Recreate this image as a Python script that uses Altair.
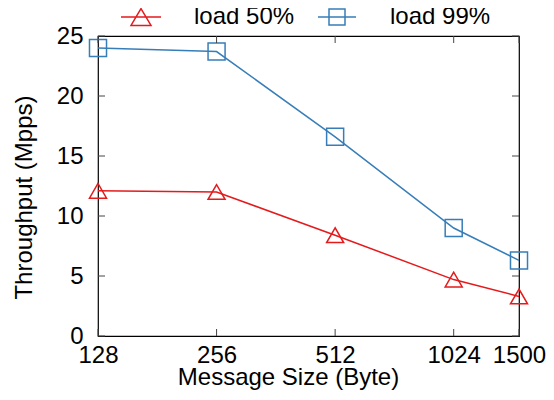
import altair as alt
import pandas as pd

sizes = [128, 256, 512, 1024, 1500]
load50 = [12.1, 12.0, 8.4, 4.7, 3.3]
load99 = [24.0, 23.7, 16.6, 9.0, 6.3]
series = ["load 50%", "load 99%"]
colors = ["#e41a1c", "#377eb8"]
shapes = ["triangle-up", "square"]
legend_shapes = [
    "M-1,0L1,0M0,-0.42L0.5,0.42L-0.5,0.42Z",
    "M-0.95,0L0.95,0M-0.4,-0.4L0.4,-0.4L0.4,0.4L-0.4,0.4Z",
]
y_ticks = [0, 5, 10, 15, 20, 25]

rows = []
for name, vals in zip(series, [load50, load99]):
    for s, v in zip(sizes, vals):
        rows.append({"size": s, "value": v, "series": name})
df = pd.DataFrame(rows)
ydf = pd.DataFrame({"value": y_ticks})
xdf = pd.DataFrame({"size": sizes})

W, H = 421, 300
TL = 7
FONT = "Liberation Sans"
FS = 24

xscale = alt.Scale(type="log", base=2, domain=[128, 1500], nice=False)
yscale = alt.Scale(domain=[0, 25], nice=False, zero=False)

xaxis = alt.Axis(values=sizes, title="Message Size (Byte)", labelOverlap=False,
                 labelFlush=False, labelPadding=7, titleX=190, titlePadding=-2,
                 format="d")
yaxis = alt.Axis(values=y_ticks, title="Throughput (Mpps)", labelPadding=15,
                 titlePadding=20, titleY=161)

legend = alt.Legend(title=None, orient="none", legendX=22, legendY=-40,
                    direction="horizontal", columns=2, labelFontSize=FS,
                    labelFont=FONT, labelColor="black", labelOffset=32,
                    symbolSize=1600, symbolStrokeWidth=1.5, columnPadding=20,
                    symbolFillColor="transparent")

X = alt.X("size:Q", scale=xscale, axis=xaxis)
Y = alt.Y("value:Q", scale=yscale, axis=yaxis)

lines = alt.Chart(df).mark_line(strokeWidth=1.5).encode(
    x=X, y=Y,
    color=alt.Color("series:N", scale=alt.Scale(domain=series, range=colors), legend=None),
    detail="series:N",
)

points = alt.Chart(df).mark_point(filled=False, strokeWidth=1.5, opacity=1, size=290).encode(
    x=X, y=Y,
    color=alt.Color("series:N", scale=alt.Scale(domain=series, range=colors), legend=None),
    shape=alt.Shape("series:N", scale=alt.Scale(domain=series, range=shapes), legend=None),
)

legend_layer = alt.Chart(df).mark_point(filled=False, strokeWidth=1.5, opacity=1).encode(
    x=X, y=Y,
    color=alt.Color("series:N", scale=alt.Scale(domain=series, range=colors), legend=legend),
    shape=alt.Shape("series:N", scale=alt.Scale(domain=series, range=legend_shapes), legend=legend),
).transform_filter("false")

tick_color = "#444444"
yl = alt.Chart(ydf).mark_rule(color=tick_color, strokeWidth=1).encode(
    y=Y, x=alt.value(0), x2=alt.value(TL))
yr = alt.Chart(ydf).mark_rule(color=tick_color, strokeWidth=1).encode(
    y=Y, x=alt.value(W - TL), x2=alt.value(W))
xb = alt.Chart(xdf).mark_rule(color=tick_color, strokeWidth=1).encode(
    x=X, y=alt.value(H), y2=alt.value(H - TL))
xt = alt.Chart(xdf).mark_rule(color=tick_color, strokeWidth=1).encode(
    x=X, y=alt.value(0), y2=alt.value(TL))

chart = alt.layer(lines, points, legend_layer, yl, yr, xb, xt).resolve_scale(
    color="independent", shape="independent"
).properties(
    width=W, height=H,
    autosize=alt.AutoSizeParams(type="none"),
    padding={"left": 90, "top": 28, "right": 27, "bottom": 56},
).configure_view(
    stroke="black", strokeWidth=1.2
).configure_axis(
    domain=False, ticks=False, grid=False,
    labelFont=FONT, labelFontSize=FS, labelColor="black",
    titleFont=FONT, titleFontSize=FS, titleFontWeight="normal", titleColor="black",
)

chart.save("out.html", embed_options={"renderer": "svg", "actions": False})
